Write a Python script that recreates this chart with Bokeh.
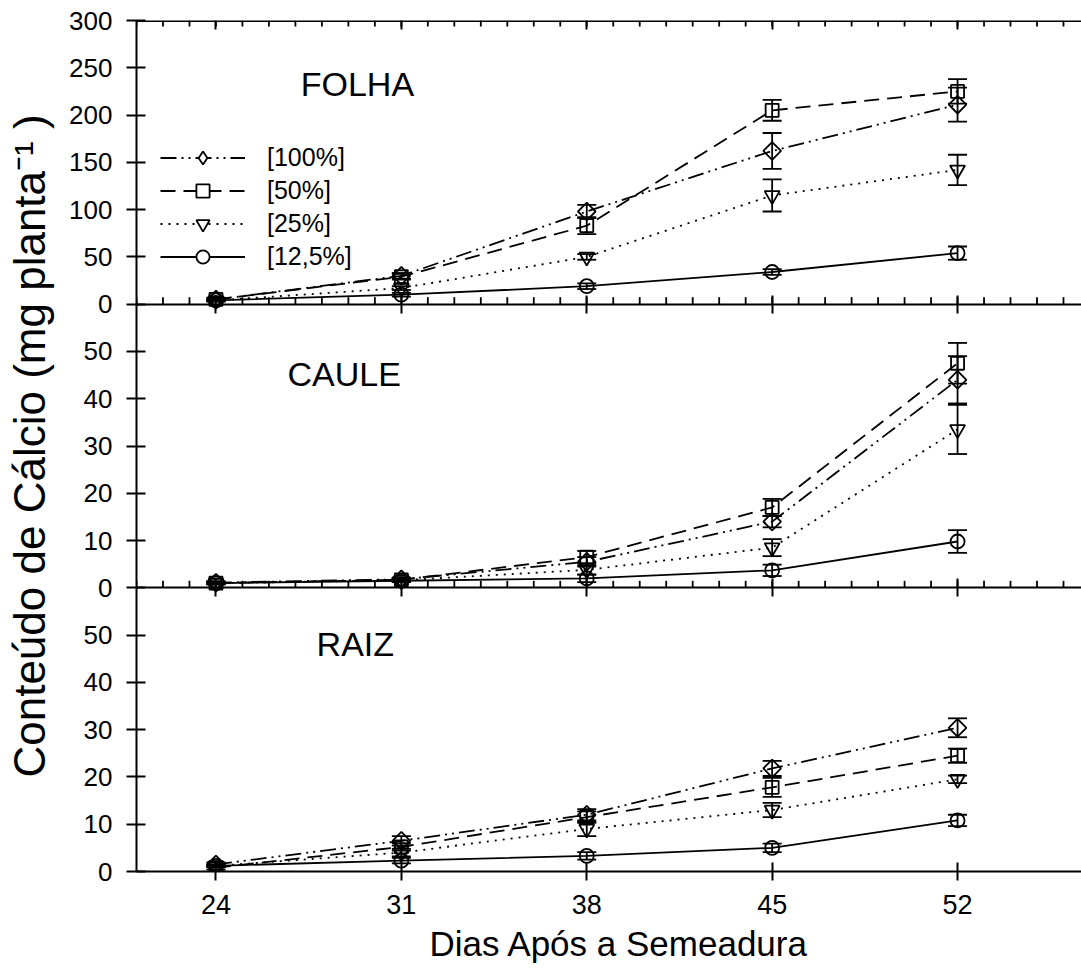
import math
from bokeh.plotting import figure
from bokeh.models import (ColumnDataSource, Whisker, TeeHead, FixedTicker, LinearAxis,
                          Range1d, Legend, LegendItem, Label, Title)
from bokeh.embed import file_html
from bokeh.resources import INLINE

# ---------------- data ----------------
days = [24, 31, 38, 45, 52]
minor_days = list(range(21, 57))
series_labels = ["[100%]", "[50%]", "[25%]", "[12,5%]"]
panel_names = ["FOLHA", "CAULE", "RAIZ"]
x_title = "Dias Após a Semeadura"
y_title = "Conteúdo de Cálcio (mg planta\u207b\u00b9 )"

folha_ticks = [0, 50, 100, 150, 200, 250, 300]
caule_ticks = [0, 10, 20, 30, 40, 50]
raiz_ticks = [0, 10, 20, 30, 40, 50]

folha_100 = [5, 30, 98, 162, 211]
folha_50 = [5, 29, 83, 205, 225]
folha_25 = [4, 17, 50, 115, 142]
folha_12 = [4, 10, 19, 34, 54]
folha_100_err = [2, 3, 7, 19, 18]
folha_50_err = [1, 3, 9, 11, 13]
folha_25_err = [1, 2, 3, 17, 16]
folha_12_err = [1, 2, 3, 3, 7]

caule_100 = [1.1, 1.8, 5.5, 14.0, 44.0]
caule_50 = [1.0, 1.7, 6.5, 17.0, 47.5]
caule_25 = [1.0, 1.6, 3.8, 8.5, 33.5]
caule_12 = [1.0, 1.5, 2.0, 3.7, 9.8]
caule_100_err = [0.3, 0.4, 1.0, 1.2, 5.0]
caule_50_err = [0.3, 0.4, 1.3, 1.8, 4.3]
caule_25_err = [0.2, 0.3, 1.0, 1.8, 5.2]
caule_12_err = [0.2, 0.3, 0.8, 1.2, 2.4]

raiz_100 = [1.5, 6.5, 12.0, 21.8, 30.4]
raiz_50 = [0.8, 5.2, 11.5, 17.8, 24.5]
raiz_25 = [1.2, 4.0, 9.0, 13.0, 19.5]
raiz_12 = [1.2, 2.3, 3.3, 5.0, 10.8]
raiz_100_err = [0.4, 1.0, 1.2, 1.6, 2.0]
raiz_50_err = [0.4, 0.8, 1.2, 2.0, 1.5]
raiz_25_err = [0.3, 0.8, 1.5, 1.5, 0.8]
raiz_12_err = [0.2, 0.6, 0.8, 0.9, 1.2]

# ---------------- styles ----------------
FONT = "Liberation Sans"
DASHES = ["16 5 2 5 2 5", "15 8", "2 6", "solid"]
MARKERS = ["square", "square", "inverted_triangle", "circle"]
LEGEND_MARKERS = ["diamond", "square", "inverted_triangle", "circle"]
ANGLES = [math.pi / 4, 0.0, 0.0, 0.0]
SIZES = [12.5, 13, 15, 14]
LW = 1.8

# stacked panels share one frame; each panel has its own y range
raiz_range = Range1d(0, 180)
caule_range = Range1d(-60, 120)
folha_range = Range1d(-600, 300)

p = figure(width=1081, height=969, x_range=Range1d(21, 56.68), y_range=raiz_range,
           output_backend="svg", toolbar_location=None,
           min_border_left=136, min_border_right=0, min_border_top=20, min_border_bottom=98,
           x_axis_location=None, y_axis_location=None)
p.extra_y_ranges = {"folha": folha_range, "caule": caule_range}
p.xgrid.grid_line_color = None
p.ygrid.grid_line_color = None
p.outline_line_color = None
p.background_fill_color = "white"
p.border_fill_color = "white"


def to_default(v, r):
    return round((v - r.start) / (r.end - r.start) * (raiz_range.end - raiz_range.start)
                 + raiz_range.start, 6)


def style_axis(ax, size="26px"):
    ax.axis_line_color = "black"
    ax.axis_line_width = 2
    ax.major_tick_line_color = "black"
    ax.major_tick_line_width = 2
    ax.minor_tick_in = 0
    ax.minor_tick_out = 0
    ax.major_label_text_font = FONT
    ax.major_label_text_font_size = size
    ax.major_label_text_color = "black"


def blank_axis(loc, tin, tout):
    ax = LinearAxis(ticker=FixedTicker(ticks=days, minor_ticks=[]), fixed_location=loc)
    style_axis(ax)
    ax.major_tick_in = tin
    ax.major_tick_out = tout
    ax.major_label_overrides = {t: "" for t in days}
    return ax


def day_ticks(loc, length, angle):
    # small day ticks along a horizontal rule (screen-length rays)
    p.ray(x=minor_days, y=[loc] * len(minor_days), length=length, length_units="screen",
          angle=angle, line_color="black", line_width=1.8)


# top border line: ticks pointing down
top_ax = blank_axis(raiz_range.end, 9, 0)
top_ax.axis_line_width = 3
p.add_layout(top_ax, "above")
day_ticks(raiz_range.end, 6, -math.pi / 2)

# panel separators
for loc in (to_default(0, folha_range), to_default(0, caule_range)):
    p.add_layout(blank_axis(loc, 9, 9), "below")
    day_ticks(loc, 7, math.pi / 2)

# bottom axis with day labels
bottom_ax = LinearAxis(ticker=FixedTicker(ticks=days, minor_ticks=[]))
style_axis(bottom_ax, "27px")
bottom_ax.major_tick_in = 9
bottom_ax.major_tick_out = 9
bottom_ax.major_label_standoff = 14
p.add_layout(bottom_ax, "below")

# x title, placed like the reference
p.add_layout(Title(text=x_title, align="left", offset=293, text_font=FONT,
                   text_font_size="35px", text_font_style="normal", text_color="black",
                   standoff=10), "below")

# left axis: one rule for the three panels, labels in each panel's units
left_ticks = ([to_default(t, raiz_range) for t in raiz_ticks]
              + [to_default(t, caule_range) for t in caule_ticks]
              + [to_default(t, folha_range) for t in folha_ticks])
left_labels = [str(t) for t in raiz_ticks + caule_ticks + folha_ticks]
left_ax = LinearAxis(ticker=FixedTicker(ticks=left_ticks, minor_ticks=[]))
style_axis(left_ax)
left_ax.major_tick_in = 9
left_ax.major_tick_out = 10
left_ax.major_label_standoff = 14
left_ax.major_label_overrides = dict(zip(left_ticks, left_labels))
p.add_layout(left_ax, "left")

# y title on its own (outer) axis
yt_ax = LinearAxis(ticker=FixedTicker(ticks=[], minor_ticks=[]))
yt_ax.axis_line_color = None
yt_ax.major_tick_out = 0
yt_ax.major_tick_in = 0
yt_ax.minor_tick_out = 0
yt_ax.minor_tick_in = 0
yt_ax.axis_label = y_title
yt_ax.axis_label_text_font = FONT
yt_ax.axis_label_text_font_size = "44px"
yt_ax.axis_label_text_font_style = "normal"
yt_ax.axis_label_text_color = "black"
yt_ax.axis_label_standoff = 13
p.add_layout(yt_ax, "left")

panels = [
    ("folha", [folha_100, folha_50, folha_25, folha_12],
     [folha_100_err, folha_50_err, folha_25_err, folha_12_err]),
    ("caule", [caule_100, caule_50, caule_25, caule_12],
     [caule_100_err, caule_50_err, caule_25_err, caule_12_err]),
    ("default", [raiz_100, raiz_50, raiz_25, raiz_12],
     [raiz_100_err, raiz_50_err, raiz_25_err, raiz_12_err]),
]

legend_items = []
for pi_, (rn, series, errs) in enumerate(panels):
    for i, (vals, err) in enumerate(zip(series, errs)):
        src = ColumnDataSource(dict(
            x=days, y=vals,
            lower=[v - e for v, e in zip(vals, err)],
            upper=[v + e for v, e in zip(vals, err)]))
        ln = p.line("x", "y", source=src, y_range_name=rn, line_color="black",
                    line_width=LW, line_dash=DASHES[i])
        mk = p.scatter("x", "y", source=src, y_range_name=rn, marker=MARKERS[i],
                       size=SIZES[i], angle=ANGLES[i], fill_color=None,
                       line_color="black", line_width=LW)
        wh = Whisker(source=src, base="x", upper="upper", lower="lower", y_range_name=rn,
                     line_color="black", line_width=LW,
                     upper_head=TeeHead(size=19, line_color="black", line_width=LW),
                     lower_head=TeeHead(size=19, line_color="black", line_width=LW))
        p.add_layout(wh)
        if pi_ == 0:
            # legend swatch marker (hidden in the plot, shown in the legend)
            lg = p.scatter("x", "y", source=src, y_range_name=rn, marker=LEGEND_MARKERS[i],
                           fill_color="white", line_color="black", line_width=LW,
                           visible=False)
            legend_items.append(LegendItem(label=series_labels[i], renderers=[ln, lg]))

legend = Legend(items=legend_items, location=(24, 598), orientation="vertical",
                glyph_width=85, glyph_height=33, label_height=20, spacing=0,
                label_standoff=22, padding=0, margin=0,
                label_text_font=FONT, label_text_font_size="25px", label_text_color="black",
                background_fill_alpha=0, border_line_alpha=0)
p.add_layout(legend, "center")

# panel names
for name, rn, xx, yy in ((panel_names[0], "folha", 27.2, 233),
                         (panel_names[1], "caule", 26.7, 45.3),
                         (panel_names[2], "default", 27.8, 48.1)):
    p.add_layout(Label(x=xx, y=yy, y_range_name=rn, text=name, text_font=FONT,
                       text_font_size="34px", text_color="black",
                       text_baseline="alphabetic", text_align="left"))

open("out.html", "w").write(file_html(p, INLINE))
